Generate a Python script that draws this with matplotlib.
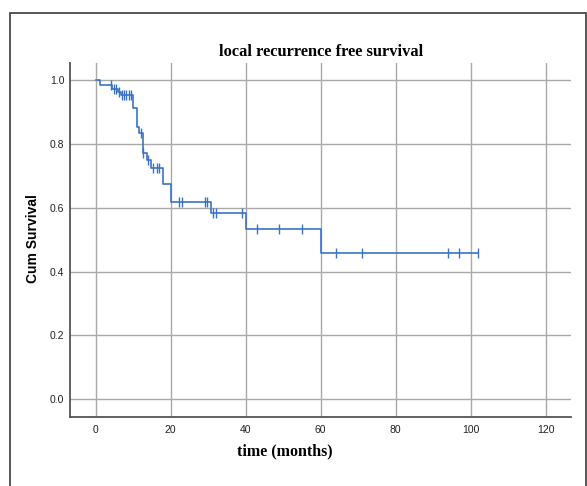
import matplotlib
matplotlib.use("Agg")
import matplotlib.pyplot as plt
from matplotlib.patches import Rectangle
import numpy as np

# Kaplan-Meier estimate: event times (months) and survival after each event
event_times = [0, 1.1, 4.4, 5.9, 6.7, 10.0, 11.1, 11.6, 12.7, 13.6, 14.7, 17.9,
               20.0, 30.7, 40.0, 60.0]
survival = [1.0, 0.983, 0.972, 0.962, 0.952, 0.913, 0.854, 0.833, 0.770, 0.749,
            0.726, 0.673, 0.618, 0.582, 0.533, 0.457]
# censored observations (months)
censor_times = [4.0, 4.8, 5.4, 6.3, 7.0, 7.5, 8.1, 8.8, 9.3, 12.0, 12.7, 14.0,
                15.4, 16.3, 17.0, 22.2, 22.9, 29.1, 29.8, 31.4, 32.1, 39.1,
                42.9, 49.0, 54.9, 64.0, 71.1, 94.0, 97.0, 102.0]
last_followup = 102.0

x_ticks = [0, 20, 40, 60, 80, 100, 120]
y_ticks = [0.0, 0.2, 0.4, 0.6, 0.8, 1.0]

W, H = 587, 486
fig = plt.figure(figsize=(W / 100, H / 100), dpi=100)

# outer frame around the chart
fig.patches.append(Rectangle((9.5 / W, -0.02), (585.5 - 9.5) / W, 1.02 - 13 / H,
                             transform=fig.transFigure, fill=False,
                             edgecolor="#4a4a4a", linewidth=1.3, zorder=0))

left, right, top, bottom = 70, 570.7, 63, 416.7
ax = fig.add_axes([left / W, 1 - bottom / H, (right - left) / W, (bottom - top) / H])

ax.set_xlim(-6.85, 126.7)
ax.set_ylim(-0.0545, 1.0533)

steps_t = list(event_times) + [last_followup]
steps_s = list(survival) + [survival[-1]]
line_color = "#3b73c4"
ax.step(steps_t, steps_s, where="post", color=line_color, linewidth=1.2, zorder=3)

ev = np.array(event_times)
sv = np.array(survival)
censor_s = [sv[np.searchsorted(ev, t, side="right") - 1] for t in censor_times]
ax.plot(censor_times, censor_s, linestyle="none", marker="|", markersize=7,
        markeredgewidth=1.0, color=line_color, zorder=4)

ax.set_xticks(x_ticks)
ax.set_yticks(y_ticks)
ax.set_xticklabels([str(v) for v in x_ticks], family="Liberation Sans", fontsize=7.5)
ax.set_yticklabels([f"{v:.1f}" for v in y_ticks], family="Liberation Sans", fontsize=7.5)
ax.tick_params(axis="both", length=0, labelcolor="#222222")
ax.tick_params(axis="x", pad=6)
ax.tick_params(axis="y", pad=4)

ax.grid(True, color="#a9a9a9", linewidth=1.0, zorder=1)
ax.set_axisbelow(True)
for side in ("top", "right"):
    ax.spines[side].set_visible(False)
for side in ("left", "bottom"):
    ax.spines[side].set_color("#555555")
    ax.spines[side].set_linewidth(1.3)

fig.text(321 / W, 1 - 52 / H, "local recurrence free survival", ha="center", va="center",
         family="Liberation Serif", fontweight="bold", fontsize=11.8)
fig.text(285 / W, 1 - 451 / H, "time (months)", ha="center", va="center",
         family="Liberation Serif", fontweight="bold", fontsize=11.5)
fig.text(33 / W, 1 - 239 / H, "Cum Survival", ha="center", va="center", rotation=90,
         family="Liberation Sans", fontweight="bold", fontsize=10)

fig.savefig("out.png", dpi=100)
